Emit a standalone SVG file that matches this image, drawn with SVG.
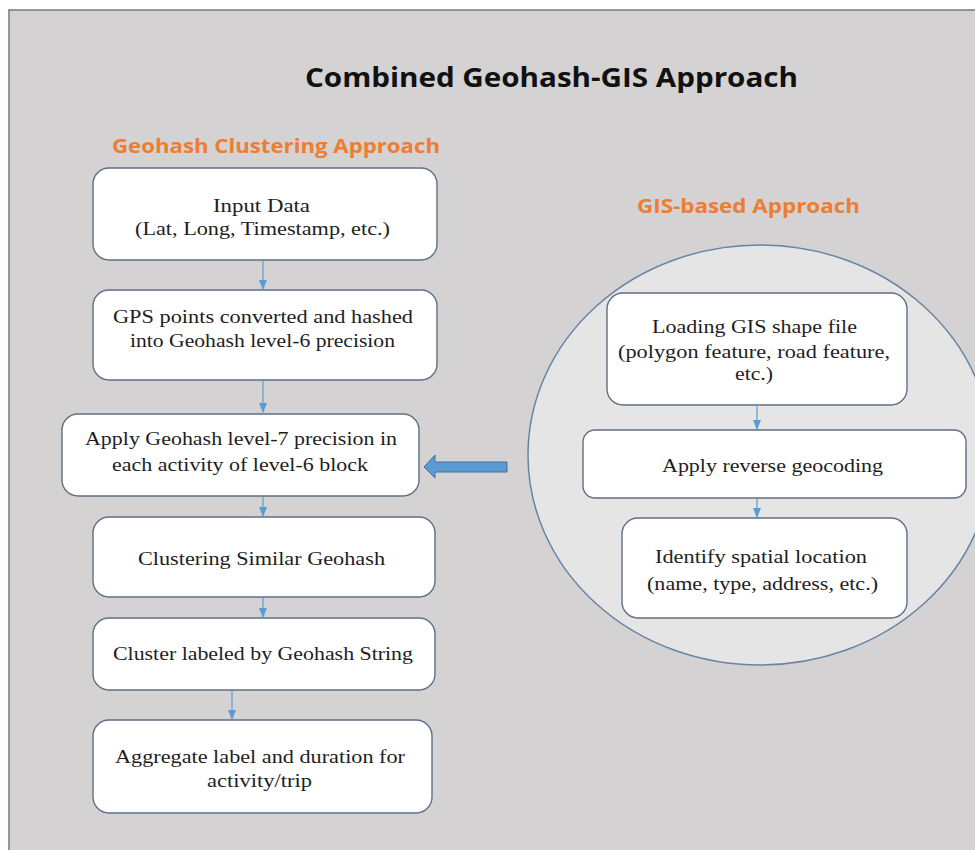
<svg xmlns="http://www.w3.org/2000/svg" width="975" height="850" viewBox="0 0 975 850">
<defs>
<marker id="ah" markerWidth="10" markerHeight="8" refX="9" refY="4" orient="auto" markerUnits="userSpaceOnUse">
<path d="M0,0 L10,4 L0,8 Z" fill="#5b9bd5"/>
</marker>
<style>
.box{fill:#fff;stroke:#5f6f84;stroke-width:1.4}
.t{font-family:"Liberation Serif","Times New Roman",serif;font-size:18px;fill:#1e1e1e;text-anchor:start}
.h{font-family:"Open Sans","Liberation Sans",sans-serif;font-weight:bold;fill:#ed7d31}
.c{stroke:#5b9bd5;stroke-width:1.2;fill:none;marker-end:url(#ah)}
</style>
</defs>
<rect x="0" y="0" width="975" height="850" fill="#fff"/>
<rect x="9" y="10" width="1000" height="900" fill="#d4d2d2" stroke="#6e7b8c" stroke-width="1.5"/>
<text x="305" y="87" font-family="'Open Sans','Liberation Sans',sans-serif" font-weight="bold" font-size="26" fill="#111" textLength="493" lengthAdjust="spacingAndGlyphs">Combined Geohash-GIS Approach</text>
<text class="h" x="112" y="153" font-size="20" textLength="328" lengthAdjust="spacingAndGlyphs">Geohash Clustering Approach</text>
<text class="h" x="637" y="213" font-size="20" textLength="223" lengthAdjust="spacingAndGlyphs">GIS-based Approach</text>
<ellipse id="gis-region" cx="760" cy="455" rx="232" ry="210" fill="#e6e5e5" stroke="#6785a3" stroke-width="1.5"/>
<g id="n1"><rect class="box" x="93" y="168" width="344" height="92" rx="16"/>
<text class="t" x="213" y="212" textLength="97" lengthAdjust="spacingAndGlyphs">Input Data</text>
<text class="t" x="135" y="235" textLength="255" lengthAdjust="spacingAndGlyphs">(Lat, Long, Timestamp, etc.)</text></g>
<g id="n2"><rect class="box" x="93" y="290" width="344" height="90" rx="16"/>
<text class="t" x="113" y="323" textLength="300" lengthAdjust="spacingAndGlyphs">GPS  points converted and hashed</text>
<text class="t" x="130" y="347" textLength="265" lengthAdjust="spacingAndGlyphs">into Geohash level-6  precision</text></g>
<g id="n3"><rect class="box" x="62" y="414" width="357" height="82" rx="16"/>
<text class="t" x="85" y="445" textLength="312" lengthAdjust="spacingAndGlyphs">Apply Geohash level-7 precision in</text>
<text class="t" x="112" y="471" textLength="256" lengthAdjust="spacingAndGlyphs">each activity of level-6 block</text></g>
<g id="n4"><rect class="box" x="93" y="517" width="342" height="80" rx="16"/>
<text class="t" x="138" y="565" textLength="247" lengthAdjust="spacingAndGlyphs">Clustering  Similar  Geohash</text></g>
<g id="n5"><rect class="box" x="93" y="618" width="342" height="72" rx="16"/>
<text class="t" x="113" y="660" textLength="300" lengthAdjust="spacingAndGlyphs">Cluster labeled by Geohash String</text></g>
<g id="n6"><rect class="box" x="93" y="720" width="339" height="93" rx="16"/>
<text class="t" x="115" y="763" textLength="290" lengthAdjust="spacingAndGlyphs">Aggregate  label and duration for</text>
<text class="t" x="207" y="787" textLength="105" lengthAdjust="spacingAndGlyphs">activity/trip</text></g>
<g id="r1"><rect class="box" x="607" y="293" width="300" height="112" rx="16"/>
<text class="t" x="652" y="333" textLength="205" lengthAdjust="spacingAndGlyphs">Loading GIS shape file</text>
<text class="t" x="618" y="358" textLength="272" lengthAdjust="spacingAndGlyphs">(polygon  feature, road feature,</text>
<text class="t" x="735" y="380" textLength="38" lengthAdjust="spacingAndGlyphs">etc.)</text></g>
<g id="r2"><rect class="box" x="583" y="430" width="383" height="68" rx="12"/>
<text class="t" x="662" y="472" textLength="221" lengthAdjust="spacingAndGlyphs">Apply  reverse  geocoding</text></g>
<g id="r3"><rect class="box" x="622" y="518" width="285" height="100" rx="16"/>
<text class="t" x="655" y="563" textLength="212" lengthAdjust="spacingAndGlyphs">Identify spatial location</text>
<text class="t" x="647" y="590" textLength="231" lengthAdjust="spacingAndGlyphs">(name, type, address, etc.)</text></g>
<g id="connectors">
<line class="c" x1="263" y1="261" x2="263" y2="289"/>
<line class="c" x1="263" y1="381" x2="263" y2="412"/>
<line class="c" x1="263" y1="497" x2="263" y2="516"/>
<line class="c" x1="263" y1="598" x2="263" y2="617"/>
<line class="c" x1="232" y1="691" x2="232" y2="719"/>
<line class="c" x1="757" y1="405" x2="757" y2="429"/>
<line class="c" x1="757" y1="499" x2="757" y2="517"/>
<path d="M507,462 L435,462 L435,455 L424,467 L435,478 L435,472 L507,472 Z" fill="#5b9bd5" stroke="#41719c" stroke-width="1"/>
</g>
</svg>
